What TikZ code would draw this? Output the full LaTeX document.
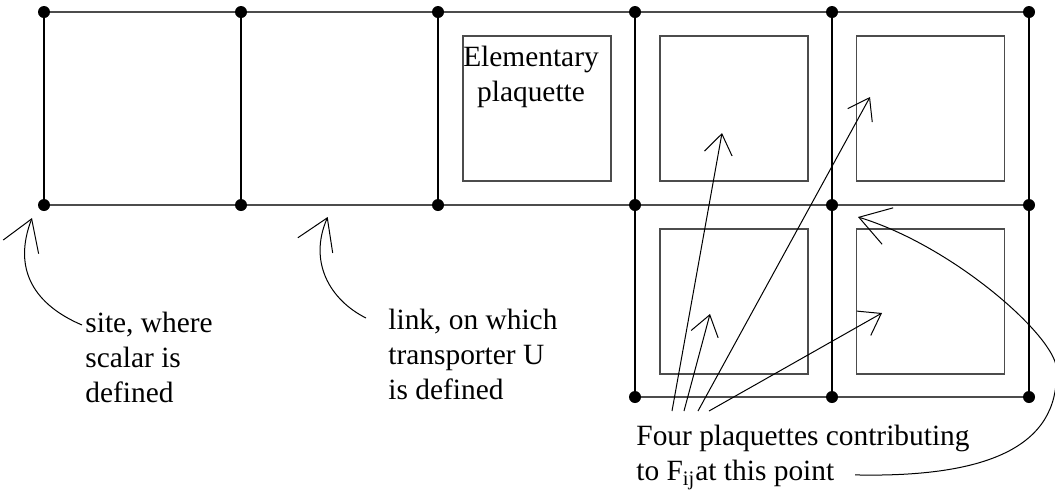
\documentclass[tikz,border=0pt]{standalone}
\usepackage{fontspec}
\setmainfont{Liberation Serif}
\usetikzlibrary{arrows.meta, positioning, calc}

\begin{document}
\begin{tikzpicture}[
    x=0.5pt, y=-0.5pt,
    site/.style={
        circle, fill=black,
        inner sep=0pt, minimum size=6pt
    },
    hlink/.style={black!70, line width=0.8pt},
    vlink/.style={black, line width=0.7pt},
    plaq/.style={
        draw=black!70, line width=0.7pt, inner sep=0pt,
        minimum width=74pt, minimum height=72.5pt
    },
    note/.style={align=left, inner sep=0pt, font=\fontsize{14.7}{17.5}\selectfont},
    pointer/.style={-{Straight Barb[length=15pt, width=19pt]}, line width=0.5pt},
    fanline/.style={-{Straight Barb[length=10pt, width=14pt]}, line width=0.5pt}
]
\useasboundingbox (0,0) rectangle (1055,500);

% lattice sites
\node[site] (t1) at (44,12)   {};
\node[site] (t2) at (241,12)  {};
\node[site] (t3) at (438,12)  {};
\node[site] (t4) at (635,12)  {};
\node[site] (t5) at (832,12)  {};
\node[site] (t6) at (1029,12) {};
\node[site] (m1) at (44,205)   {};
\node[site] (m2) at (241,205)  {};
\node[site] (m3) at (438,205)  {};
\node[site] (m4) at (635,205)  {};
\node[site] (m5) at (832,205)  {};
\node[site] (m6) at (1029,205) {};
\node[site] (b4) at (635,397)  {};
\node[site] (b5) at (832,397)  {};
\node[site] (b6) at (1029,397) {};

% links
\draw[hlink] (t1) -- (t2) -- (t3) -- (t4) -- (t5) -- (t6);
\draw[hlink] (m1) -- (m2) -- (m3) -- (m4) -- (m5) -- (m6);
\draw[hlink] (b4) -- (b5) -- (b6);
\draw[vlink] (t1) -- (m1);
\draw[vlink] (t2) -- (m2);
\draw[vlink] (t3) -- (m3);
\draw[vlink] (t4) -- (m4) -- (b4);
\draw[vlink] (t5) -- (m5) -- (b5);
\draw[vlink] (t6) -- (m6) -- (b6);

% plaquettes
\node[plaq] (p1) at (537,108.5)   {};
\node[plaq] (p2) at (734,108.5)   {};
\node[plaq] (p3) at (930.5,108.5) {};
\node[plaq] (p4) at (734,301.5)   {};
\node[plaq] (p5) at (930.5,301.5) {};

% labels
\node[note, align=center, anchor=north] (elem) at (531,46) {Elementary\\plaquette};
\node[note, anchor=north west] (sitetxt) at (85,312) {site, where\\scalar is\\defined};
\node[note, anchor=north west] (linktxt) at (388,309) {link, on which\\transporter U\\is defined};
\node[note, anchor=north west] (four) at (636,425) {Four plaquettes contributing\\to F\textsubscript{ij}at this point};

% pointers
\draw[pointer] ($(sitetxt.north west)+(-3,13)$) .. controls (35,305) and (12,270) .. ($(m1)+(-12,13)$);
\draw[pointer] ($(linktxt.north west)+(-22,9)$) .. controls (330,300) and (308,262) .. ($(m2)!0.44!(m3)+(0,12)$);
\draw[pointer] ($(four.south west)+(219,-15)$) .. controls (1000,478) and (1062,440) .. (1056,365)
    .. controls (1048,330) and (950,245) .. ($(m5)+(26,12)$);

\draw[fanline] ($(four.north west)+(36,-14)$) -- ($(p2)+(-12,24.5)$);
\draw[fanline] ($(four.north west)+(48,-14)$) -- ($(p4)+(-24,12.5)$);
\draw[fanline] ($(four.north west)+(62,-14)$) -- ($(p3)+(-60.5,-11.5)$);
\draw[fanline] ($(four.north west)+(73,-14)$) -- ($(p5)+(-48.5,11.5)$);
\end{tikzpicture}
\end{document}
